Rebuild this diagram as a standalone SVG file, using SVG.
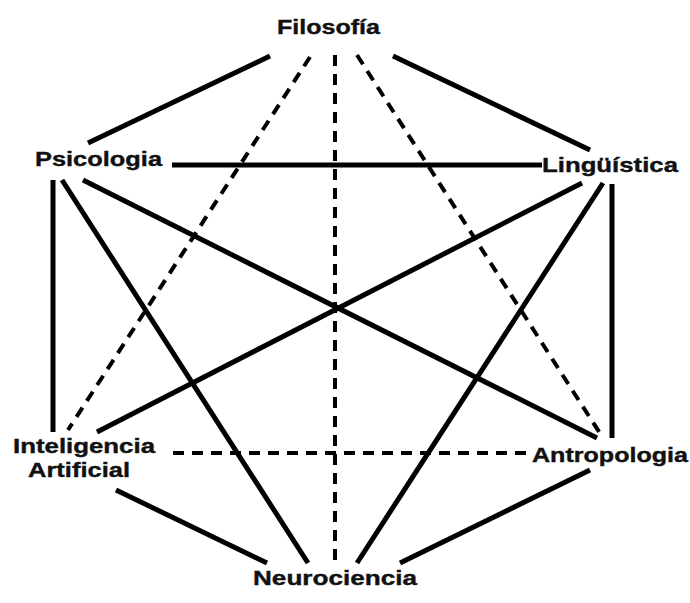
<svg xmlns="http://www.w3.org/2000/svg" width="690" height="603" viewBox="0 0 690 603">
<style>
.s{stroke:#000;stroke-width:5;fill:none;stroke-linecap:butt}
.d{stroke:#000;stroke-width:4;fill:none;stroke-dasharray:11 8}
text{font-family:"Liberation Sans","DejaVu Sans",sans-serif;font-weight:bold;font-size:21px;fill:#111;stroke:#111;stroke-width:0.4}
</style>
<rect width="690" height="603" fill="#fff"/>
<g id="connectors">
<line class="s" x1="270" y1="56" x2="88" y2="143"/>
<line class="s" x1="393" y1="56" x2="590" y2="150"/>
<line class="s" x1="172" y1="165" x2="542" y2="165"/>
<line class="s" x1="53" y1="180" x2="53" y2="432"/>
<line class="s" x1="612" y1="184" x2="612" y2="438"/>
<line class="s" x1="83" y1="180" x2="597" y2="438"/>
<line class="s" x1="582" y1="183" x2="97" y2="432"/>
<line class="s" x1="62" y1="180" x2="308" y2="563"/>
<line class="s" x1="603" y1="183" x2="357" y2="563"/>
<line class="s" x1="116" y1="490" x2="267" y2="563"/>
<line class="s" x1="590" y1="470" x2="400" y2="563"/>
<line class="d" x1="335" y1="55" x2="335" y2="562"/>
<line class="d" x1="310" y1="57" x2="68" y2="430"/>
<line class="d" x1="357" y1="55" x2="603" y2="438"/>
<line class="d" x1="173" y1="453" x2="530" y2="453"/>
</g>
<g id="filosofia"><text x="277" y="34" textLength="103" lengthAdjust="spacingAndGlyphs">Filosofía</text></g>
<g id="psicologia"><text x="35" y="166" textLength="127" lengthAdjust="spacingAndGlyphs">Psicologia</text></g>
<g id="linguistica"><text x="542" y="172" textLength="136" lengthAdjust="spacingAndGlyphs">Lingüística</text></g>
<g id="inteligencia-artificial"><text x="13" y="453" textLength="142" lengthAdjust="spacingAndGlyphs">Inteligencia</text><text x="28" y="477" textLength="102" lengthAdjust="spacingAndGlyphs">Artificial</text></g>
<g id="antropologia"><text x="532" y="462" textLength="156" lengthAdjust="spacingAndGlyphs">Antropologia</text></g>
<g id="neurociencia"><text x="253" y="585" textLength="164" lengthAdjust="spacingAndGlyphs">Neurociencia</text></g>
</svg>
